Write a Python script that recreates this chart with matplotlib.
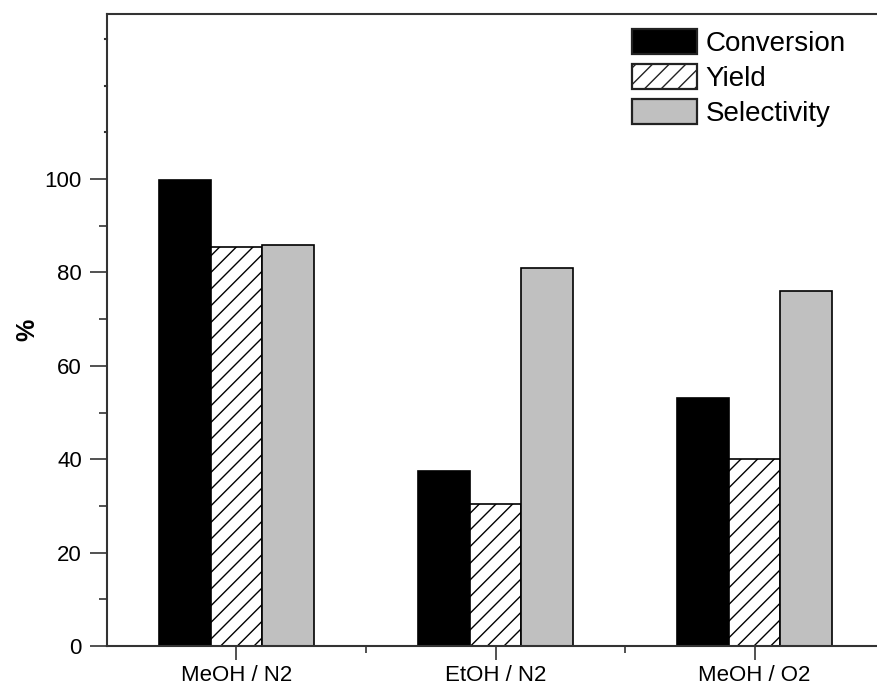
import numpy as np
import matplotlib.pyplot as plt
from matplotlib.ticker import FixedLocator

plt.rcParams['font.family'] = ['Liberation Sans', 'DejaVu Sans']
plt.rcParams['hatch.linewidth'] = 1.0

# Data
conditions = ['MeOH / N2', 'EtOH / N2', 'MeOH / O2']
conversion = [99.8, 37.5, 53.1]
yield_ = [85.4, 30.4, 40.0]
selectivity = [85.9, 81.0, 76.0]

x = np.arange(1, len(conditions) + 1)
w = 0.2

fig = plt.figure(figsize=(8.77, 6.88), dpi=100)
ax = fig.add_axes([0.122, 0.061, 0.886, 0.919])

ax.bar(x - w, conversion, w, color='black', edgecolor='black',
       linewidth=1.2, label='Conversion')
ax.bar(x, yield_, w, color='white', edgecolor='black', hatch='//',
       linewidth=1.2, label='Yield')
ax.bar(x + w, selectivity, w, color='#c0c0c0', edgecolor='black',
       linewidth=1.2, label='Selectivity')

ax.set_xlim(0.5, 3.5)
ax.set_ylim(0, 135.4)

ax.set_xticks(x)
ax.set_xticklabels(conditions, fontsize=16)
ax.xaxis.set_minor_locator(FixedLocator([1.5, 2.5]))
ax.set_yticks([0, 20, 40, 60, 80, 100])
ax.yaxis.set_minor_locator(FixedLocator([10, 30, 50, 70, 90]))
ax.tick_params(axis='y', labelsize=16)
ax.tick_params(which='both', direction='out', width=1.2, color='#333333')
ax.tick_params(axis='y', which='major', length=12, pad=6)
ax.tick_params(axis='y', which='minor', length=6)
ax.tick_params(axis='x', which='major', length=10, pad=4)
ax.tick_params(axis='x', which='minor', length=5)

# tiny ticks above 100
for v in [110, 120, 130]:
    ax.plot([-0.003, 0], [v, v], transform=ax.get_yaxis_transform(),
            color='#333333', lw=1.5, clip_on=False)

for s in ax.spines.values():
    s.set_linewidth(1.5)
    s.set_color('#333333')

ax.set_ylabel('%', fontsize=18, fontweight='bold', labelpad=4)

leg = ax.legend(loc='upper left', bbox_to_anchor=(632 / 877, 1 - 29 / 688),
                bbox_transform=fig.transFigure, frameon=False,
                fontsize=20, handlelength=2.35, handleheight=1.0,
                handletextpad=0.3, labelspacing=0.25, borderpad=0,
                borderaxespad=0)
for p in leg.get_patches():
    p.set_linewidth(1.6)
    p.set_edgecolor('#222222')

plt.savefig('out.png', dpi=100)
